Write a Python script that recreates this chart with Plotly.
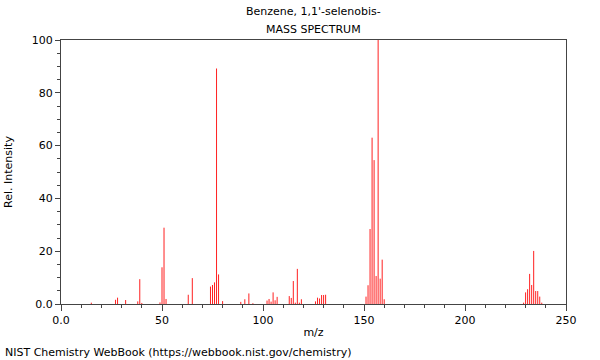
import plotly.graph_objects as go

title_line1 = "Benzene, 1,1'-selenobis-"
title_line2 = "MASS SPECTRUM"
footer = "NIST Chemistry WebBook (https://webbook.nist.gov/chemistry)"

mz = [15, 27, 28, 32, 38, 39, 40, 49, 50, 51, 52, 63, 65,
      74, 75, 76, 77, 78, 80, 89, 91, 93, 95,
      102, 103, 104, 105, 106, 107,
      113, 114, 115, 116, 117, 118, 119,
      126, 127, 128, 129, 130, 131,
      151, 152, 153, 154, 155, 156, 157, 158, 159, 160,
      229, 230, 231, 232, 233, 234, 235, 236, 237, 238]
intensity = [0.5, 1.6, 2.4, 1.5, 1.0, 9.4, 0.4, 0.6, 13.9, 28.9, 1.9, 3.5, 9.8,
             6.6, 7.2, 8.2, 89.2, 11.2, 1.1, 0.8, 1.8, 4.0, 0.3,
             1.3, 1.9, 0.9, 4.4, 1.4, 2.7,
             3.0, 2.3, 8.7, 0.5, 13.3, 0.5, 1.8,
             1.0, 2.4, 2.1, 3.4, 3.4, 3.5,
             2.8, 7.1, 28.4, 63.0, 54.5, 10.6, 100.0, 9.6, 16.8, 1.8,
             0.5, 4.4, 5.6, 11.4, 7.2, 20.1, 4.9, 4.9, 2.8, 0.5]

xtick_vals = [0, 50, 100, 150, 200, 250]
xtick_text = ["0.0", "50", "100", "150", "200", "250"]
ytick_vals = [0, 20, 40, 60, 80, 100]
ytick_text = ["0.0", "20", "40", "60", "80", "100"]

xs, ys = [], []
for m, v in zip(mz, intensity):
    xs += [m, m, None]
    ys += [0, v, None]

fig = go.Figure()
fig.add_trace(go.Scatter(x=xs, y=ys, mode="lines",
                         line=dict(color="#ff2020", width=1),
                         hoverinfo="skip", showlegend=False))

font = dict(family="DejaVu Sans", size=11, color="black")
axis_common = dict(showline=True, linecolor="#444444", linewidth=1, mirror=True,
                   ticks="outside", tickcolor="#444444", showgrid=False,
                   zeroline=False, tickfont=font, automargin=False)

fig.update_layout(
    width=600, height=360,
    margin=dict(l=61, r=34, t=40, b=56),
    paper_bgcolor="white", plot_bgcolor="white",
    font=font,
    xaxis=dict(range=[0, 250], tickvals=xtick_vals, ticktext=xtick_text,
               ticklen=6,
               minor=dict(dtick=10, tick0=0, ticks="outside", ticklen=3, tickcolor="#444444"),
               title=dict(text="m/z", font=font, standoff=2),
               **axis_common),
    yaxis=dict(range=[0, 100], tickvals=ytick_vals, ticktext=ytick_text,
               ticklen=5,
               minor=dict(dtick=5, tick0=0, ticks="outside", ticklen=3, tickcolor="#444444"),
               title=dict(text="Rel. Intensity", font=font, standoff=16),
               **axis_common),
    annotations=[
        dict(text=title_line1, x=0.5, y=1, xref="paper", yref="paper",
             xanchor="center", yanchor="bottom", yshift=20, showarrow=False, font=font),
        dict(text=title_line2, x=0.5, y=1, xref="paper", yref="paper",
             xanchor="center", yanchor="bottom", yshift=2, showarrow=False, font=font),
        dict(text=footer, x=0, y=0, xref="paper", yref="paper",
             xanchor="left", yanchor="bottom", showarrow=False, font=font,
             xshift=-58, yshift=-57),
    ],
)

fig.write_html("out.html",
               config={"displayModeBar": False, "staticPlot": True},
               post_script="document.body.style.margin='0';document.body.style.overflow='hidden';")
